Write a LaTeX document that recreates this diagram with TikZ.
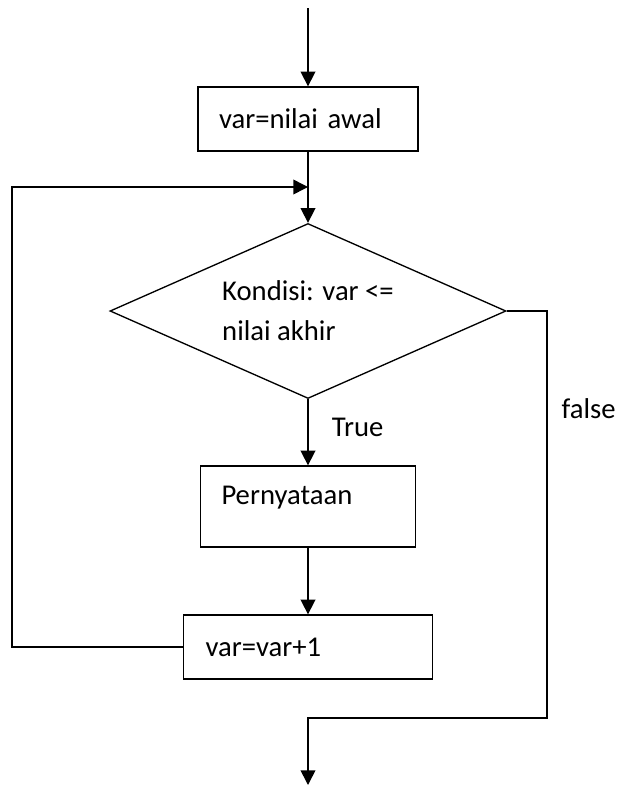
\documentclass[tikz,border=0pt]{standalone}
\usepackage{fontspec}
\setmainfont{Carlito}
\usetikzlibrary{arrows.meta,shapes.geometric}

\begin{document}
\begin{tikzpicture}[x=0.75pt,y=-0.75pt]
	\useasboundingbox (0,0) rectangle (623,785);
	\begin{scope}[every node/.style={draw,line width=1pt,inner ysep=0pt,font=\fontsize{21.5}{30}\selectfont}]
		\node[rectangle,minimum width=165pt,minimum height=48pt,text width=133.5pt,inner xsep=15.75pt,align=left] (init) at (308,119) {var=nilai awal};
		\node[diamond,minimum width=297pt,minimum height=131.25pt,aspect=2.26,inner sep=0pt,align=left] (cond) at (308,311) {Kondisi: var <=\\nilai akhir};
		\node[rectangle,minimum width=161.25pt,minimum height=60.75pt,text width=129.75pt,inner xsep=15.75pt,align=left,text height=14pt,text depth=17.75pt] (body) at (308,506.5) {Pernyataan};
		\node[rectangle,minimum width=186.75pt,minimum height=48pt,text width=153.75pt,inner xsep=16.5pt,align=left] (incr) at (308,647) {var=var+1};
	\end{scope}

	\coordinate (start) at (308,8);
	\coordinate (join) at (308,187);
	\coordinate (fcorner) at (547,718);
	\coordinate (exit) at (308,785);

	\begin{scope}[>={Triangle[length=11pt,width=11pt]},
		every node/.style={font=\fontsize{21.5}{30}\selectfont},
		every edge/.style={draw,line width=1.2pt}]
		\path [->] (start) edge (init);
		\path (init) edge (join);
		\path [->] (join) edge (cond);
		\path [->] (cond) edge node[pos=0.42,right=14pt] {True} (body);
		\path [->] (body) edge (incr);
		\draw [->,line width=1.2pt] (incr.west) -- ++(-171,0) |- (join);
		\draw [->,line width=1.2pt] (cond.east) -| (fcorner) node[pos=0.62,right=7pt] {false} -- (fcorner -| exit) -- (exit);
	\end{scope}
\end{tikzpicture}
\end{document}
